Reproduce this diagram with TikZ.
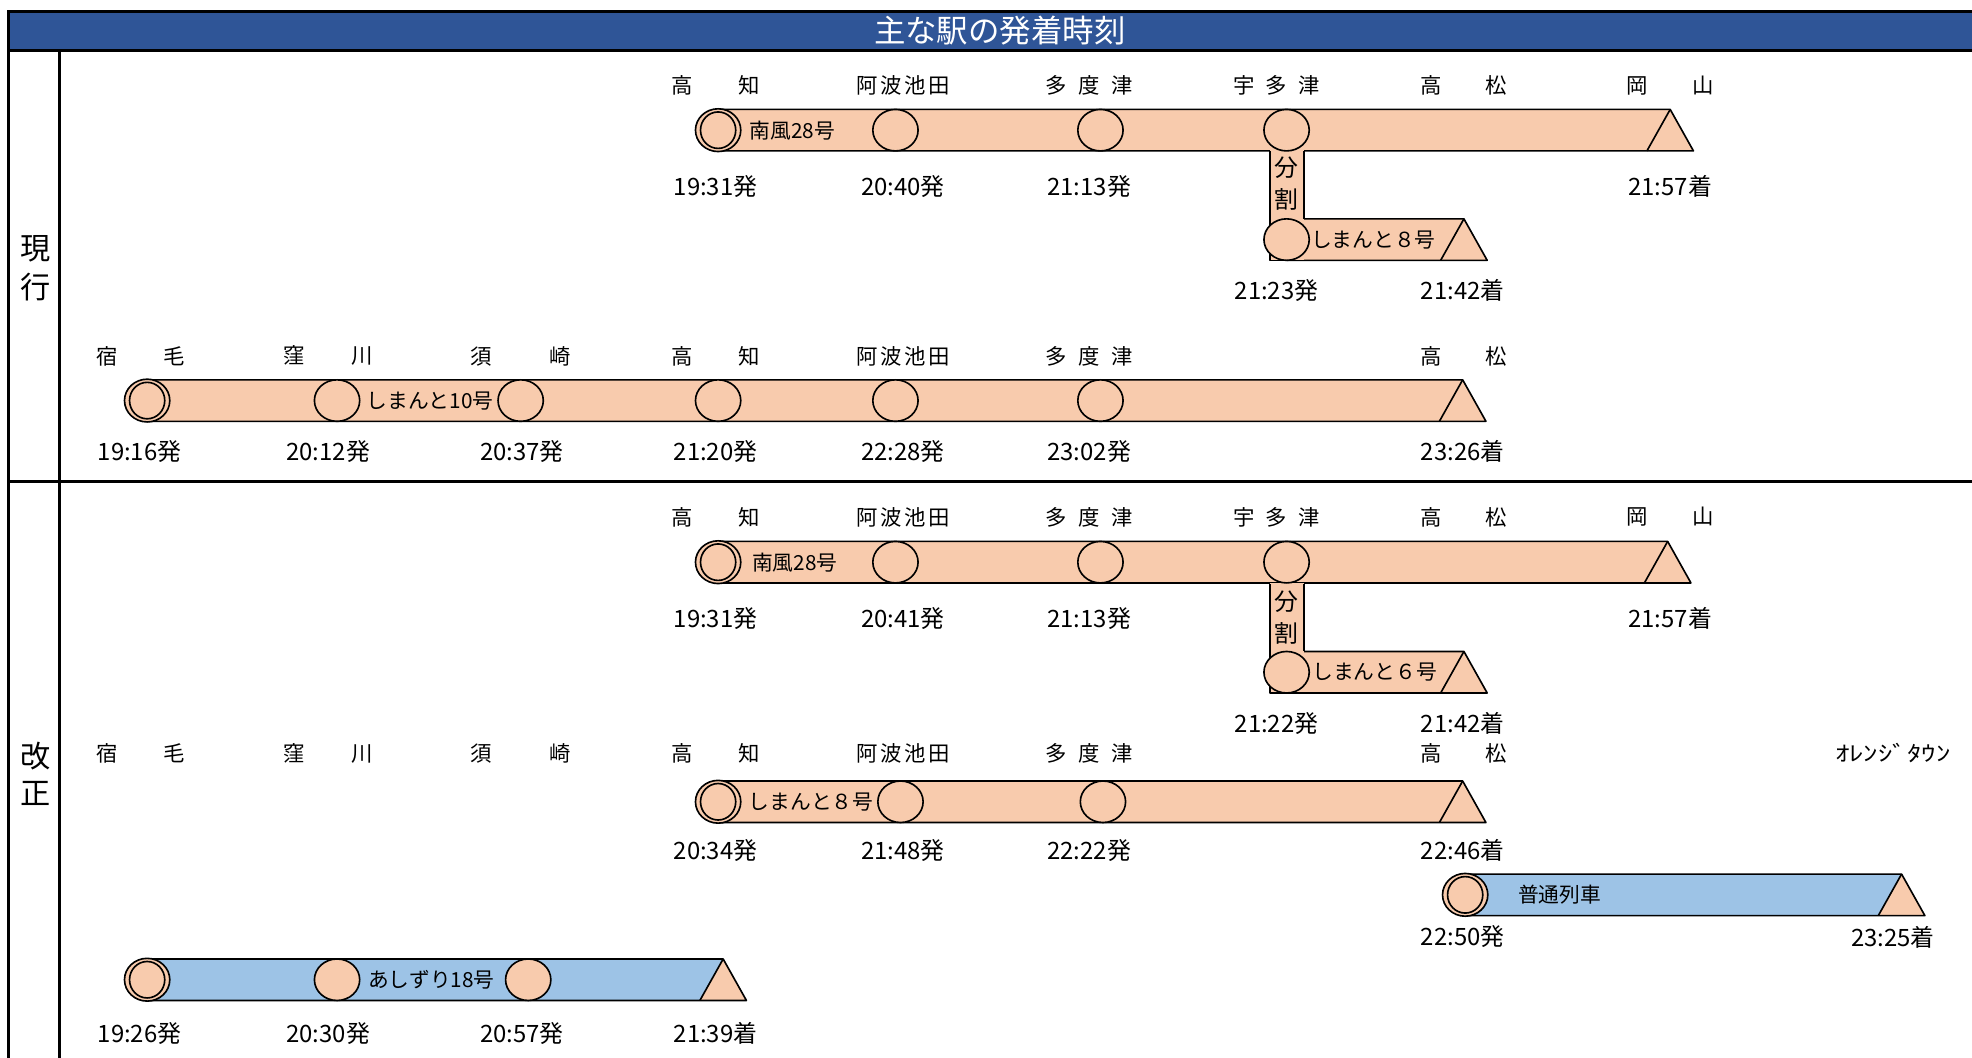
\documentclass[tikz,border=0pt]{standalone}
\usepackage{fontspec}
\setmainfont{Noto Sans CJK JP}
\usepackage{graphicx}
\usetikzlibrary{shapes.geometric}
\definecolor{peach}{HTML}{F8CBAD}
\definecolor{sky}{HTML}{9DC3E6}
\definecolor{titleblue}{HTML}{2F5597}
\newcommand\kgap[1]{\hspace{#1pt}}
\newcommand\tubebody[5]{%
  \fill[#4] (#2,#1-16.5) -- (#3,#1-16.5) -- (#3-18.5,#1+16.5) -- (#2,#1+16.5) -- cycle;
  \fill[#5] (#3-18.5,#1+16.5) -- (#3,#1-16.5) -- (#3+18.5,#1+16.5) -- cycle;
  \draw[tubeline] (#2,#1-16.5) -- (#3,#1-16.5) -- (#3+18.5,#1+16.5) -- (#2,#1+16.5);
  \draw[tubeline] (#3-18.5,#1+16.5) -- (#3,#1-16.5);
}
\tikzset{
  tubeline/.style={line width=1.3pt, line join=round},
  stn/.style={ellipse, draw, line width=1.3pt, fill=peach, minimum width=36pt, minimum height=33pt, inner sep=0pt},
  capout/.style={ellipse, draw, line width=1.3pt, fill=peach, minimum width=36pt, minimum height=34pt, inner sep=0pt},
  capin/.style={ellipse, draw, line width=1.3pt, fill=peach, minimum width=28pt, minimum height=29pt, inner sep=0pt},
  sta/.style={font=\fontsize{17}{17}\selectfont, inner sep=0pt},
  tim/.style={font=\fontsize{19}{19}\selectfont, inner sep=0pt},
  tname/.style={font=\fontsize{16.5}{16.5}\selectfont, inner sep=0pt},
  split/.style={font=\fontsize{19}{19}\selectfont, inner sep=0pt},
  side/.style={font=\fontsize{24}{24}\selectfont, inner sep=0pt},
  border/.style={line width=2.4pt},
}
\begin{document}
\begin{tikzpicture}[x=1pt,y=-1pt]
\useasboundingbox (0,0) rectangle (1568,841);
% frame
\fill[titleblue] (7,9) rectangle (1568,40);
\draw[border] (1568,9) -- (7,9) -- (7,841);
\draw[border] (7,40) -- (1568,40);
\draw[border] (47.5,40) -- (47.5,841);
\draw[border] (7,383) -- (1568,383);
\node[font=\fontsize{25}{25}\selectfont, text=white, inner sep=0pt] (title) at (795,24.5) {主な駅の発着時刻};
\node[side] (s1) at (28,198) {現};
\node[side] (s2) at (28,228) {行};
\node[side] (s3) at (28,601) {改};
\node[side] (s4) at (28,631) {正};

% ---------- Row A (現行 南風28号) ----------
\tubebody{103.5}{571}{1328}{peach}{peach}
\tubebody{190.5}{1023}{1164}{peach}{peach}
\fill[peach] (1010,119.3) rectangle (1037,207);
\draw[tubeline] (1010,120) -- (1010,207) -- (1040,207);
\draw[tubeline] (1037,120) -- (1037,174);
\node[capout] (A0) at (571,103.5) {};
\node[capin] (A0i) at (A0) {};
\node[stn] (A1) at (712,103.5) {};
\node[stn] (A2) at (875,103.5) {};
\node[stn] (A3) at (1023,103.5) {};
\node[stn] (Ab) at (1023,190.5) {};
\node[tname] (An) at (630,103.5) {南風28号};
\node[tname] (Abn) at (1092,190.5) {しまんと８号};
\node[split] (Ad1) at (1023,133.5) {分};
\node[split] (Ad2) at (1023,158.5) {割};
\node[sta] (Aa1) at (569,68) {高\kgap{36}知};
\node[sta] (Aa2) at (718,68) {阿\kgap{2}波\kgap{2}池\kgap{2}田};
\node[sta] (Aa3) at (866,68) {多\kgap{9}度\kgap{9}津};
\node[sta] (Aa4) at (1015,68) {宇\kgap{9}多\kgap{9}津};
\node[sta] (Aa5) at (1164,68) {高\kgap{35}松};
\node[sta] (Aa6) at (1328,68) {岡\kgap{36}山};
\node[tim] (At1) at (569,148) {19:31発};
\node[tim] (At2) at (718,148) {20:40発};
\node[tim] (At3) at (866,148) {21:13発};
\node[tim] (At4) at (1328,148) {21:57着};
\node[tim] (At5) at (1015,231) {21:23発};
\node[tim] (At6) at (1163,231) {21:42着};

% ---------- Row B (現行 しまんと10号) ----------
\tubebody{318.5}{117}{1163}{peach}{peach}
\node[capout] (B0) at (117,318.5) {};
\node[capin] (B0i) at (B0) {};
\node[stn] (B1) at (268,318.5) {};
\node[stn] (B2) at (414,318.5) {};
\node[stn] (B3) at (571,318.5) {};
\node[stn] (B4) at (712,318.5) {};
\node[stn] (B5) at (875,318.5) {};
\node[tname] (Bn) at (342,318.5) {しまんと10号};
\node[sta] (Ba1) at (112,283) {宿\kgap{36}毛};
\node[sta] (Ba2) at (261,283) {窪\kgap{37}川};
\node[sta] (Ba3) at (414,283) {須\kgap{46}崎};
\node[sta] (Ba4) at (569,283) {高\kgap{36}知};
\node[sta] (Ba5) at (718,283) {阿\kgap{2}波\kgap{2}池\kgap{2}田};
\node[sta] (Ba6) at (866,283) {多\kgap{9}度\kgap{9}津};
\node[sta] (Ba7) at (1164,283) {高\kgap{35}松};
\node[tim] (Bt1) at (111,359) {19:16発};
\node[tim] (Bt2) at (261,359) {20:12発};
\node[tim] (Bt3) at (415,359) {20:37発};
\node[tim] (Bt4) at (569,359) {21:20発};
\node[tim] (Bt5) at (718,359) {22:28発};
\node[tim] (Bt6) at (866,359) {23:02発};
\node[tim] (Bt7) at (1163,359) {23:26着};

% ---------- Row C (改正 南風28号) ----------
\tubebody{447}{571}{1326}{peach}{peach}
\tubebody{534.5}{1023}{1164}{peach}{peach}
\fill[peach] (1010,463.8) rectangle (1037,551);
\draw[tubeline] (1010,464.5) -- (1010,551) -- (1040,551);
\draw[tubeline] (1037,464.5) -- (1037,518);
\node[capout] (C0) at (571,447) {};
\node[capin] (C0i) at (C0) {};
\node[stn] (C1) at (712,447) {};
\node[stn] (C2) at (875,447) {};
\node[stn] (C3) at (1023,447) {};
\node[stn] (Cb) at (1023,534.5) {};
\node[tname] (Cn) at (632,447) {南風28号};
\node[tname] (Cbn) at (1093,534.5) {しまんと６号};
\node[split] (Cd1) at (1023,478.5) {分};
\node[split] (Cd2) at (1023,503.5) {割};
\node[sta] (Ca1) at (569,411) {高\kgap{36}知};
\node[sta] (Ca2) at (718,411) {阿\kgap{2}波\kgap{2}池\kgap{2}田};
\node[sta] (Ca3) at (866,411) {多\kgap{9}度\kgap{9}津};
\node[sta] (Ca4) at (1015,411) {宇\kgap{9}多\kgap{9}津};
\node[sta] (Ca5) at (1164,411) {高\kgap{35}松};
\node[sta] (Ca6) at (1328,411) {岡\kgap{36}山};
\node[tim] (Ct1) at (569,492) {19:31発};
\node[tim] (Ct2) at (718,492) {20:41発};
\node[tim] (Ct3) at (866,492) {21:13発};
\node[tim] (Ct4) at (1328,492) {21:57着};
\node[tim] (Ct5) at (1015,575) {21:22発};
\node[tim] (Ct6) at (1163,575) {21:42着};

% ---------- Row D (改正 しまんと8号) ----------
\tubebody{637.5}{571}{1163}{peach}{peach}
\node[capout] (D0) at (571,637.5) {};
\node[capin] (D0i) at (D0) {};
\node[stn] (D1) at (716,637.5) {};
\node[stn] (D2) at (877,637.5) {};
\node[tname] (Dn) at (645,637.5) {しまんと８号};
\node[sta] (Da1) at (112,599) {宿\kgap{36}毛};
\node[sta] (Da2) at (261,599) {窪\kgap{37}川};
\node[sta] (Da3) at (414,599) {須\kgap{46}崎};
\node[sta] (Da4) at (569,599) {高\kgap{36}知};
\node[sta] (Da5) at (718,599) {阿\kgap{2}波\kgap{2}池\kgap{2}田};
\node[sta] (Da6) at (866,599) {多\kgap{9}度\kgap{9}津};
\node[sta] (Da7) at (1164,599) {高\kgap{35}松};
\node[sta] (Da8) at (1505,599) {\scalebox{1.35}[1]{ｵﾚﾝｼﾞﾀｳﾝ}};
\node[tim] (Dt1) at (569,676) {20:34発};
\node[tim] (Dt2) at (718,676) {21:48発};
\node[tim] (Dt3) at (866,676) {22:22発};
\node[tim] (Dt4) at (1163,676) {22:46着};

% ---------- Row E (改正 普通列車) ----------
\tubebody{711.5}{1165}{1512}{sky}{peach}
\node[capout] (E0) at (1165,711.5) {};
\node[capin] (E0i) at (E0) {};
\node[tname] (En) at (1240,711.5) {普通列車};
\node[tim] (Et1) at (1163,745) {22:50発};
\node[tim] (Et2) at (1505,745) {23:25着};

% ---------- Row F (改正 あしずり18号) ----------
\tubebody{779}{117}{575}{sky}{peach}
\node[capout] (F0) at (117,779) {};
\node[capin] (F0i) at (F0) {};
\node[stn] (F1) at (268,779) {};
\node[stn] (F2) at (420,779) {};
\node[tname] (Fn) at (343,779) {あしずり18号};
\node[tim] (Ft1) at (111,822) {19:26発};
\node[tim] (Ft2) at (261,822) {20:30発};
\node[tim] (Ft3) at (415,822) {20:57発};
\node[tim] (Ft4) at (569,822) {21:39着};
\end{tikzpicture}
\end{document}
